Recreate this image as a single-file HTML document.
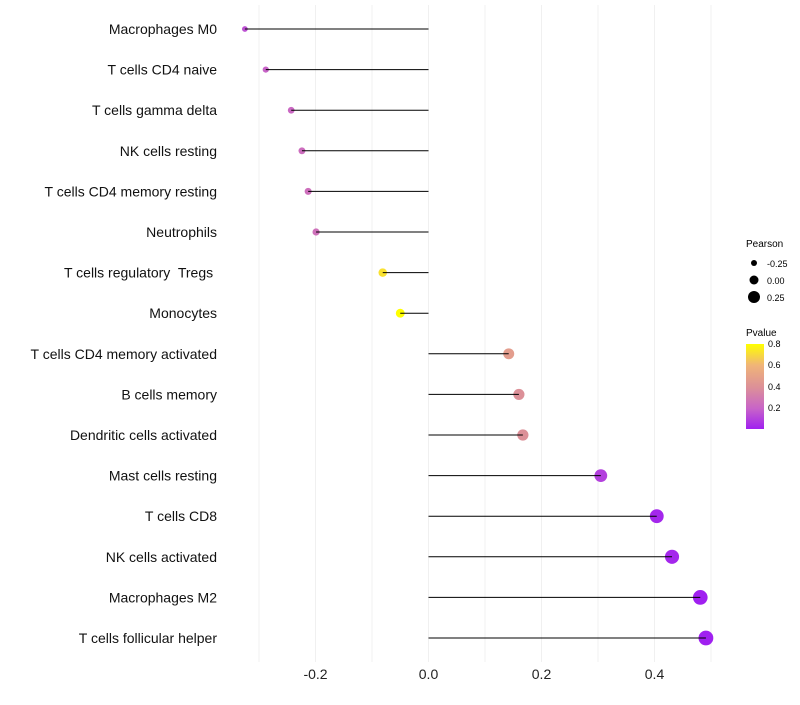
<!DOCTYPE html>
<html><head><meta charset="utf-8"><style>
body{margin:0;background:#fff;font-family:"Liberation Sans",sans-serif;}
svg text{font-family:"Liberation Sans",sans-serif;white-space:pre;}
</style></head><body>
<svg id="chart" width="800" height="700">
<defs><linearGradient id="pg" x1="0" y1="1" x2="0" y2="0">
<stop offset="0" stop-color="#A020F0"/><stop offset="0.24" stop-color="#C864C8"/><stop offset="0.49" stop-color="#DC9098"/><stop offset="0.75" stop-color="#F0B478"/><stop offset="1" stop-color="#FFFF00"/></linearGradient></defs>
<g id="grid"></g><g id="marks"></g><g id="labels"></g>
<g font-size="10">
<text x="746" y="247">Pearson</text>
<circle cx="754" cy="263" r="3" fill="#000"/><text x="767" y="267" font-size="9">-0.25</text>
<circle cx="754" cy="280" r="4.5" fill="#000"/><text x="767" y="284" font-size="9">0.00</text>
<circle cx="754" cy="297" r="6" fill="#000"/><text x="767" y="301" font-size="9">0.25</text>
<text x="746" y="336">Pvalue</text>
<rect x="746" y="344" width="18" height="85" fill="url(#pg)"/>
<text x="768" y="347" font-size="9">0.8</text><text x="768" y="368" font-size="9">0.6</text>
<text x="768" y="390" font-size="9">0.4</text><text x="768" y="411" font-size="9">0.2</text>
</g>
</svg>
<script>
const cells=["Macrophages M0","T cells CD4 naive","T cells gamma delta","NK cells resting","T cells CD4 memory resting","Neutrophils","T cells regulatory  Tregs ","Monocytes","T cells CD4 memory activated","B cells memory","Dendritic cells activated","Mast cells resting","T cells CD8","NK cells activated","Macrophages M2","T cells follicular helper"];
const pearson=[-0.325,-0.288,-0.243,-0.224,-0.213,-0.199,-0.081,-0.050,0.142,0.160,0.167,0.305,0.404,0.431,0.481,0.491];
const pvalue=[0.15,0.2,0.22,0.24,0.25,0.26,0.72,0.8,0.47,0.4,0.4,0.1,0.03,0.03,0.01,0.01];
const xticks=[-0.2,0.0,0.2,0.4];
const NS="http://www.w3.org/2000/svg";
const x=v=>428.5+v*565;
const y=i=>29+i*40.6;
const r=v=>4.7+5.5*v;
const stops=[[0.01,[160,32,240]],[0.2,[200,100,200]],[0.4,[220,144,152]],[0.6,[240,180,120]],[0.8,[255,255,0]]];
function col(p){p=Math.max(0.01,Math.min(0.8,p));
for(let k=0;k<stops.length-1;k++){const [p0,c0]=stops[k],[p1,c1]=stops[k+1];
if(p<=p1){const t=(p-p0)/(p1-p0);return `rgb(${c0.map((c,j)=>Math.round(c+(c1[j]-c)*t)).join(',')})`;}}
return 'rgb(255,255,0)';}
function mk(tag,at,parent){const e=document.createElementNS(NS,tag);for(const k in at)e.setAttribute(k,at[k]);parent.appendChild(e);return e;}
const grid=document.getElementById('grid'),marks=document.getElementById('marks'),labels=document.getElementById('labels');
for(let v=-0.3;v<=0.51;v+=0.1){const g=mk('line',{x1:x(v),x2:x(v),y1:5,y2:662,stroke:'#f0f0f0','stroke-width':1},grid);

}
xticks.forEach(t=>{const e=mk('text',{x:x(t),y:679,'text-anchor':'middle','font-size':14,fill:'#222'},labels);e.textContent=t.toFixed(1);

});
cells.forEach((c,i)=>{
const p=mk('circle',{cx:x(pearson[i]),cy:y(i),r:r(pearson[i]),fill:col(pvalue[i])},marks);


const l=mk('line',{x1:x(0),x2:x(pearson[i]),y1:y(i),y2:y(i),stroke:'#000','stroke-width':1},marks);


const t=mk('text',{x:217,y:y(i)+5,'text-anchor':'end','font-size':14,fill:'#111'},labels);t.textContent=c;


});
</script>
</body></html>
